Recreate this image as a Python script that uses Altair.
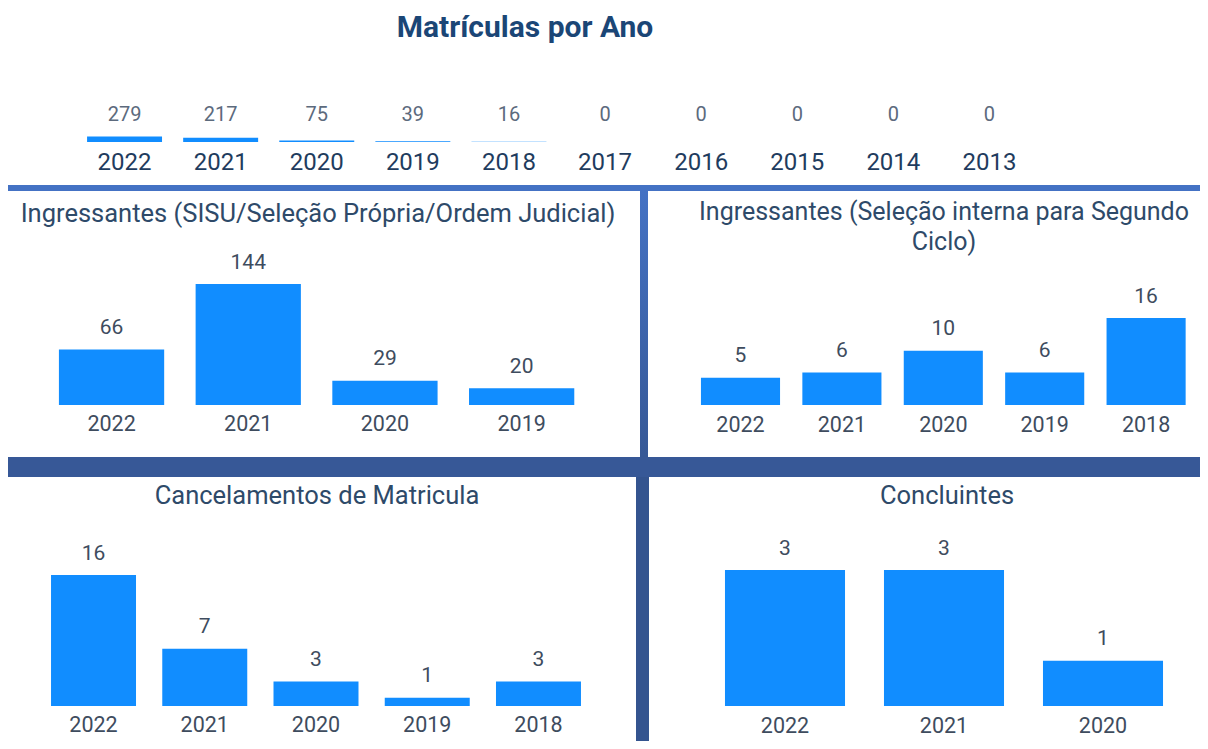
import altair as alt
import pandas as pd

# ---------------- data ----------------
top_years = ["2022", "2021", "2020", "2019", "2018", "2017", "2016", "2015", "2014", "2013"]
top_values = [279, 217, 75, 39, 16, 0, 0, 0, 0, 0]

sisu_years = ["2022", "2021", "2020", "2019"]
sisu_values = [66, 144, 29, 20]

interna_years = ["2022", "2021", "2020", "2019", "2018"]
interna_values = [5, 6, 10, 6, 16]

cancel_years = ["2022", "2021", "2020", "2019", "2018"]
cancel_values = [16, 7, 3, 1, 3]

concl_years = ["2022", "2021", "2020"]
concl_values = [3, 3, 1]

main_title = "Matrículas por Ano"
title_sisu = "Ingressantes (SISU/Seleção Própria/Ordem Judicial)"
title_interna = ["Ingressantes (Seleção interna para Segundo", "Ciclo)"]
title_cancel = "Cancelamentos de Matricula"
title_concl = "Concluintes"

# ---------------- styles ----------------
FONT = "Roboto"
BAR = "#118DFF"
TITLE_C = "#1B4676"
PANEL_TITLE_C = "#2E4A69"
LABEL_C = "#3E4C5E"
TOP_VALUE_C = "#5C6A7D"
TOP_YEAR_C = "#1F3C5E"

W, H = 1192, 733

one = pd.DataFrame({"k": [0]})


def panel(years, values, x_range, pad_inner, y_max, y_range, year_y,
          value_y=None, value_size=21, year_size=21.5, year_weight="normal",
          value_color=LABEL_C, year_color=LABEL_C):
    df = pd.DataFrame({"year": years, "value": values})
    xs = alt.X("year:N", sort=years, axis=None,
               scale=alt.Scale(domain=years, range=x_range,
                               paddingInner=pad_inner, paddingOuter=pad_inner / 2))
    ys = alt.Y("value:Q", axis=None,
               scale=alt.Scale(domain=[0, y_max], range=y_range, nice=False, zero=True))
    base = alt.Chart(df)
    b = base.mark_bar(color=BAR).encode(x=xs, y=ys)
    if value_y is None:
        v = base.mark_text(font=FONT, fontSize=value_size, color=value_color,
                           baseline="middle", dy=-21.5).encode(x=xs, y=ys, text="value:Q")
    else:
        v = base.mark_text(font=FONT, fontSize=value_size, color=value_color,
                           baseline="middle").encode(x=xs, y=alt.value(value_y), text="value:Q")
    yl = base.mark_text(font=FONT, fontSize=year_size, color=year_color,
                        fontWeight=year_weight, baseline="middle").encode(
        x=xs, y=alt.value(year_y), text="year:N")
    return alt.layer(b, v, yl)


def label(text, x, y, size, color, weight="normal"):
    return alt.Chart(one).mark_text(font=FONT, fontSize=size, color=color,
                                    fontWeight=weight, align="center",
                                    baseline="middle", text=text).encode(
        x=alt.value(x), y=alt.value(y))


def block(x, x2, y, y2, color):
    return alt.Chart(one).mark_rect(color=color).encode(
        x=alt.value(x), x2=alt.value(x2), y=alt.value(y), y2=alt.value(y2))


grad = alt.Gradient(gradient="linear", x1=0, y1=0, x2=0, y2=1,
                    stops=[alt.GradientStop(color="#4472C4", offset=0),
                           alt.GradientStop(color="#365896", offset=1)])

dividers = alt.layer(
    block(0, W, 177, 183, "#4472C4"),
    alt.Chart(one).mark_rect(color=grad).encode(
        x=alt.value(632), x2=alt.value(640), y=alt.value(183), y2=alt.value(449)),
    block(0, W, 449, 469, "#375897"),
    block(628, 641, 469, H, "#34548F"),
)

top = panel(top_years, top_values, [68.5, 1029.5], 0.22, 279, [134, 128.4],
            year_y=155, value_y=107, value_size=20, year_size=24, year_weight="normal",
            value_color=TOP_VALUE_C, year_color=TOP_YEAR_C)

p1 = panel(sisu_years, sisu_values, [35.2, 582], 0.23, 144, [397, 276], year_y=417)
p2 = panel(interna_years, interna_values, [681.8, 1188.8], 0.22, 16, [397, 310], year_y=418)
p3 = panel(cancel_years, cancel_values, [29.9, 586.1], 0.236, 16, [698, 567], year_y=718)
p4 = panel(concl_years, concl_values, [697.5, 1174.5], 0.245, 3, [698, 562], year_y=719)

titles = alt.layer(
    label(main_title, 517, 20, 30, TITLE_C, "bold"),
    label(title_sisu, 310, 206, 25.5, PANEL_TITLE_C),
    label(title_interna[0], 936, 204, 25, PANEL_TITLE_C),
    label(title_interna[1], 936, 234, 25, PANEL_TITLE_C),
    label(title_cancel, 309, 488, 25.5, PANEL_TITLE_C),
    label(title_concl, 939, 488, 25.5, PANEL_TITLE_C),
)

chart = alt.layer(dividers, top, p1, p2, p3, p4, titles).resolve_scale(
    x="independent", y="independent"
).properties(
    width=W, height=H, padding=0, autosize=alt.AutoSizeParams(type="none"),
    background="white"
).configure_view(stroke=None)

chart.save("out.html", embed_options={"renderer": "svg", "actions": False})
